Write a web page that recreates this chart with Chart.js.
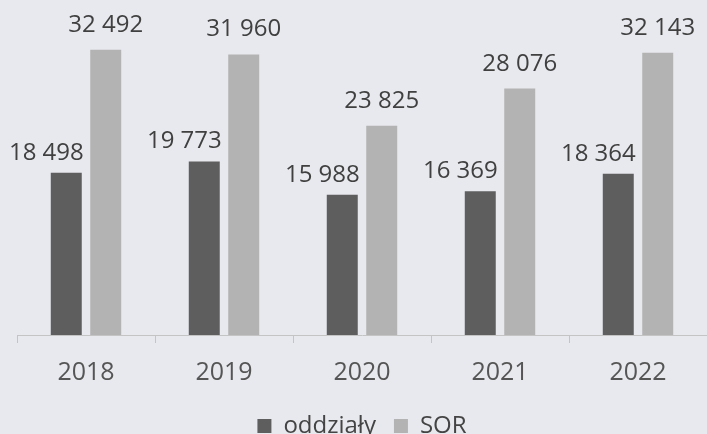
<!DOCTYPE html>
<html lang="pl">
<head>
<meta charset="UTF-8">
<title>oddziały / SOR</title>
<script src="https://cdn.jsdelivr.net/npm/chart.js"></script>
<style>
    html, body { margin: 0; padding: 0; background: #e8e9ee; }
    #wrap { width: 707px; height: 434px; }
</style>
</head>
<body>
<div id="wrap"><canvas id="chart"></canvas></div>
<script>
    const years = ['2018', '2019', '2020', '2021', '2022'];
    const oddzialy = [18498, 19773, 15988, 16369, 18364];
    const sor = [32492, 31960, 23825, 28076, 32143];

    // number with space as thousands separator
    function fmt(v) {
        return String(v).replace(/\B(?=(\d{3})+(?!\d))/g, ' ');
    }

    // values above bars (first series right-aligned on bar edge, second centred)
    const valueLabels = {
        id: 'valueLabels',
        afterDatasetsDraw(chart) {
            const ctx = chart.ctx;
            ctx.save();
            ctx.font = '24px "Open Sans"';
            ctx.fillStyle = '#404040';
            ctx.textBaseline = 'alphabetic';
            chart.data.datasets.forEach((ds, i) => {
                chart.getDatasetMeta(i).data.forEach((bar, j) => {
                    if (i === 0) {
                        ctx.textAlign = 'right';
                        ctx.fillText(fmt(ds.data[j]), bar.x + bar.width / 2 + 2, bar.y - 13);
                    } else {
                        ctx.textAlign = 'center';
                        ctx.fillText(fmt(ds.data[j]), bar.x, bar.y - 18);
                    }
                });
            });
            ctx.restore();
        }
    };

    new Chart(document.getElementById('chart'), {
        type: 'bar',
        data: {
            labels: years,
            datasets: [
                { label: 'oddziały', data: oddzialy, backgroundColor: '#5e5e5e' },
                { label: 'SOR', data: sor, backgroundColor: '#b3b3b3' }
            ]
        },
        options: {
            responsive: true,
            maintainAspectRatio: false,
            animation: false,
            categoryPercentage: 0.572,
            barPercentage: 0.785,
            layout: { padding: { left: 17, right: 0, top: 19, bottom: -14 } },
            scales: {
                x: {
                    grid: { drawOnChartArea: false, tickLength: 8, color: '#c4c4c4' },
                    border: { color: '#c4c4c4' },
                    ticks: { font: { family: 'Open Sans', size: 25 }, color: '#555', padding: 15 },
                    afterFit(scale) { scale.height -= 7; }
                },
                y: {
                    display: false,
                    min: 0,
                    max: 36000
                }
            },
            plugins: {
                legend: {
                    position: 'bottom',
                    labels: {
                        font: { family: 'Open Sans', size: 24 },
                        color: '#444',
                        boxWidth: 14,
                        boxHeight: 14,
                        padding: 18
                    }
                },
                tooltip: { enabled: false }
            }
        },
        plugins: [valueLabels]
    });
</script>
</body>
</html>
